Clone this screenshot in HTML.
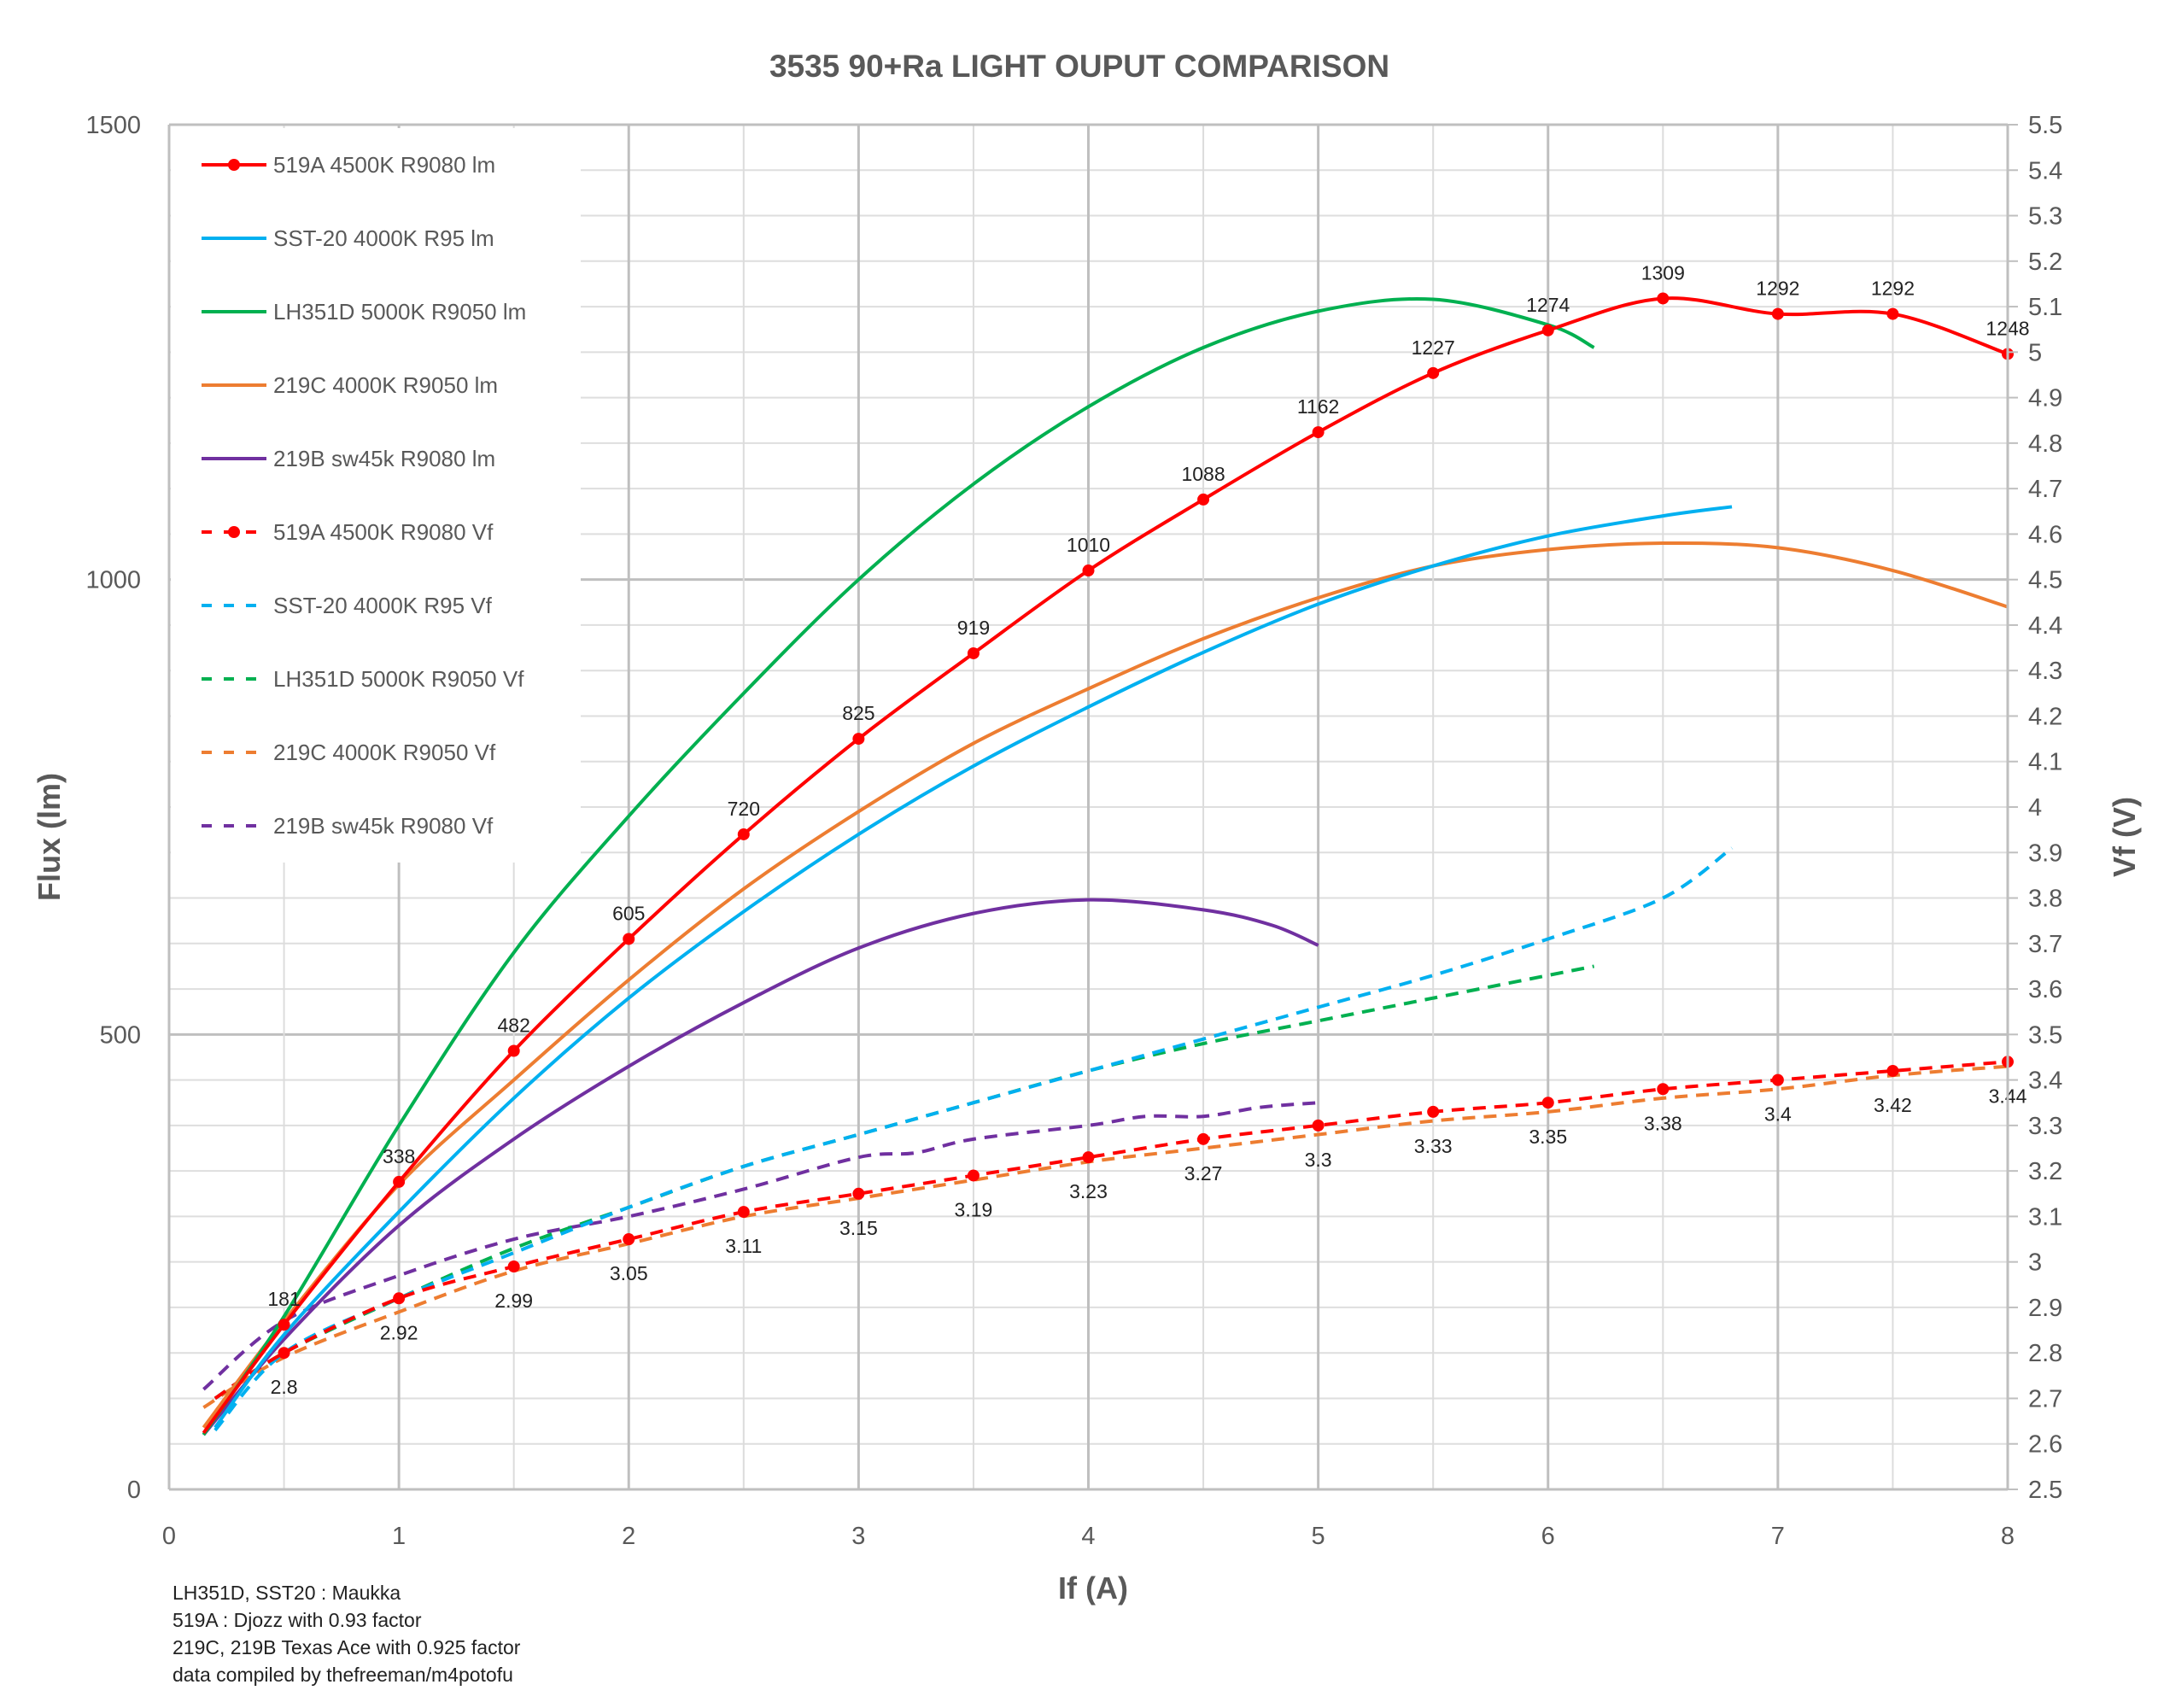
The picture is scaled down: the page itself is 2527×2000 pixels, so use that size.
<!DOCTYPE html>
<html><head><meta charset="utf-8"><style>
html,body{margin:0;padding:0;background:#fff}
svg{display:block;font-family:"Liberation Sans",sans-serif}
</style></head><body>
<svg id="chart" width="2527" height="2000" viewBox="0 0 2527 2000" xmlns="http://www.w3.org/2000/svg">
<text x="1264" y="90" text-anchor="middle" font-size="37" font-weight="bold" fill="#595959">3535 90+Ra LIGHT OUPUT COMPARISON</text>
<g id="grid"></g><g id="legendbg"></g><g id="series"></g><g id="axes"></g><g id="legend"></g>
<text transform="translate(70,980) rotate(-90)" text-anchor="middle" font-size="36" font-weight="bold" fill="#595959">Flux (lm)</text>
<text transform="translate(2500,980) rotate(-90)" text-anchor="middle" font-size="36" font-weight="bold" fill="#595959">Vf (V)</text>
<text x="1280" y="1872" text-anchor="middle" font-size="36" font-weight="bold" fill="#595959">If (A)</text>
<g font-size="23" fill="#222">
<text x="202" y="1873">LH351D, SST20 : Maukka</text>
<text x="202" y="1905">519A : Djozz with 0.93 factor</text>
<text x="202" y="1937">219C, 219B Texas Ace with 0.925 factor</text>
<text x="202" y="1969">data compiled by thefreeman/m4potofu</text>
</g>
</svg>
<script>
const xTicks=[0,1,2,3,4,5,6,7,8];
const yTicks=[0,500,1000,1500];
const y2Ticks=[2.5,2.6,2.7,2.8,2.9,3,3.1,3.2,3.3,3.4,3.5,3.6,3.7,3.8,3.9,4,4.1,4.2,4.3,4.4,4.5,4.6,4.7,4.8,4.9,5,5.1,5.2,5.3,5.4,5.5];
const a519X=[0.15,0.5,1,1.5,2,2.5,3,3.5,4,4.5,5,5.5,6,6.5,7,7.5,8];
const a519Lm=[62,181,338,482,605,720,825,919,1010,1088,1162,1227,1274,1309,1292,1292,1248];
const a519VfX=[0.2,0.5,1,1.5,2,2.5,3,3.5,4,4.5,5,5.5,6,6.5,7,7.5,8];
const a519Vf=[2.7,2.8,2.92,2.99,3.05,3.11,3.15,3.19,3.23,3.27,3.3,3.33,3.35,3.38,3.4,3.42,3.44];
const sstX=[0.2,0.5,1,1.5,2,2.5,3,3.5,4,4.5,5,5.5,6,6.5,6.8];
const sstLm=[68,170,305,430,540,635,720,795,860,920,973,1015,1048,1070,1080];
const sstVf=[2.63,2.8,2.92,3.02,3.12,3.21,3.28,3.35,3.42,3.49,3.56,3.63,3.71,3.8,3.91];
const lhX=[0.15,0.5,1,1.5,2,2.5,3,3.5,4,4.5,5,5.5,6,6.2];
const lhLm=[60,190,400,590,740,875,1000,1105,1190,1255,1295,1308,1280,1255];
const lhVfX=[0.2,0.5,1,1.5,2,2.5,3,3.5,4,4.5,5,5.5,6,6.2];
const lhVf=[2.7,2.8,2.92,3.03,3.12,3.21,3.28,3.35,3.42,3.48,3.53,3.58,3.63,3.65];
const c219X=[0.15,0.5,1,1.5,2,2.5,3,3.5,4,4.5,5,5.5,6,6.5,7,7.5,8];
const c219Lm=[68,185,335,450,560,660,745,820,880,935,980,1015,1033,1040,1035,1010,970];
const c219Vf=[2.68,2.79,2.89,2.98,3.04,3.1,3.14,3.18,3.22,3.25,3.28,3.31,3.33,3.36,3.38,3.41,3.43];
const b219X=[0.15,0.5,1,1.5,2,2.5,3,3.5,4,4.5,4.8,5];
const b219Lm=[60,165,290,385,465,535,595,633,648,637,620,598];
const b219VfX=[0.15,0.5,1,1.5,2,2.5,3,3.25,3.5,4,4.25,4.5,4.75,5];
const b219Vf=[2.72,2.87,2.97,3.05,3.1,3.16,3.23,3.24,3.27,3.3,3.32,3.32,3.34,3.35];
const legendLabels=["519A 4500K R9080 lm","SST-20 4000K R95 lm","LH351D 5000K R9050 lm","219C 4000K R9050 lm","219B sw45k R9080 lm","519A 4500K R9080 Vf","SST-20 4000K R95 Vf","LH351D 5000K R9050 Vf","219C 4000K R9050 Vf","219B sw45k R9080 Vf"];

const L=198,R=2351,T=146,B=1744;
const sx=v=>L+v/8*(R-L);
const sy=v=>B-v/1500*(B-T);
const sy2=v=>B-(v-2.5)/3*(B-T);
const NS="http://www.w3.org/2000/svg";
function mk(tag,attrs,parent){const e=document.createElementNS(NS,tag);for(const k in attrs)e.setAttribute(k,attrs[k]);parent.appendChild(e);return e;}
const grid=document.getElementById('grid'),axes=document.getElementById('axes'),ser=document.getElementById('series'),leg=document.getElementById('legend'),lbg=document.getElementById('legendbg');

y2Ticks.forEach(v=>{const y=sy2(v);
 const ln=mk('line',{x1:L,x2:R,y1:y,y2:y,stroke:'#dedede','stroke-width':2},grid);
 
 mk('line',{x1:R,x2:R+12,y1:y,y2:y,stroke:'#bfbfbf','stroke-width':2},axes);
 const tx=mk('text',{x:R+24,y:y+10,'font-size':29,fill:'#595959'},axes);tx.textContent=String(v);
 });
yTicks.forEach(v=>{const y=sy(v);const ln=mk('line',{x1:L,x2:R,y1:y,y2:y,stroke:'#bfbfbf','stroke-width':3},grid);
 });
for(let v=0.5;v<8;v+=0.5){const x=sx(v);const major=v%1===0;
 const ln=mk('line',{x1:x,x2:x,y1:T,y2:B,stroke:major?'#bfbfbf':'#dcdcdc','stroke-width':major?3:2},grid);
 }
const bg=mk('rect',{x:L+2,y:T+4,width:480,height:860,fill:'#fff'},lbg);

mk('line',{x1:L,x2:L,y1:T,y2:B,stroke:'#bfbfbf','stroke-width':3},axes);
mk('line',{x1:R,x2:R,y1:T,y2:B,stroke:'#bfbfbf','stroke-width':3},axes);
mk('line',{x1:L,x2:R,y1:B,y2:B,stroke:'#bfbfbf','stroke-width':3},axes);
mk('line',{x1:L,x2:R,y1:T,y2:T,stroke:'#bfbfbf','stroke-width':3},axes);
xTicks.forEach(v=>{const tx=mk('text',{x:sx(v),y:B+64,'text-anchor':'middle','font-size':29,fill:'#595959'},axes);tx.textContent=v;
 });
yTicks.forEach(v=>{const tx=mk('text',{x:165,y:sy(v)+10,'text-anchor':'end','font-size':29,fill:'#595959'},axes);tx.textContent=v;
 });

function path(xs,ys,fy){const p=xs.map((x,i)=>[sx(x),fy(ys[i])]);let d=`M${p[0][0]},${p[0][1]}`;
 for(let i=0;i<p.length-1;i++){const p0=p[i-1]||p[i],p1=p[i],p2=p[i+1],p3=p[i+2]||p2;
  d+=` C${p1[0]+(p2[0]-p0[0])/6},${p1[1]+(p2[1]-p0[1])/6} ${p2[0]-(p3[0]-p1[0])/6},${p2[1]-(p3[1]-p1[1])/6} ${p2[0]},${p2[1]}`;}return d;}
function line(xs,ys,fy,color,dash,name){const e=mk('path',{d:path(xs,ys,fy),fill:'none',stroke:color,'stroke-width':4,'stroke-dasharray':dash?'15 10':'none'},ser);
 }
line(b219VfX,b219Vf,sy2,'#7030a0',true,'line-219b-vf');
line(c219X,c219Vf,sy2,'#ed7d31',true,'line-219c-vf');
line(lhVfX,lhVf,sy2,'#00b050',true,'line-lh351d-vf');
line(sstX,sstVf,sy2,'#00b0f0',true,'line-sst20-vf');
line(a519VfX,a519Vf,sy2,'#ff0000',true,'line-519a-vf');
line(b219X,b219Lm,sy,'#7030a0',false,'line-219b-lm');
line(c219X,c219Lm,sy,'#ed7d31',false,'line-219c-lm');
line(lhX,lhLm,sy,'#00b050',false,'line-lh351d-lm');
line(sstX,sstLm,sy,'#00b0f0',false,'line-sst20-lm');
line(a519X,a519Lm,sy,'#ff0000',false,'line-519a-lm');
a519X.forEach((x,i)=>{if(i===0)return;const c=mk('circle',{cx:sx(x),cy:sy(a519Lm[i]),r:7,fill:'#ff0000'},ser);
 
 const t=mk('text',{x:sx(x),y:sy(a519Lm[i])-22,'text-anchor':'middle','font-size':23,fill:'#222'},ser);t.textContent=a519Lm[i];
 });
a519VfX.forEach((x,i)=>{if(i===0)return;const c=mk('circle',{cx:sx(x),cy:sy2(a519Vf[i]),r:7,fill:'#ff0000'},ser);
 
 const t=mk('text',{x:sx(x),y:sy2(a519Vf[i])+48,'text-anchor':'middle','font-size':23,fill:'#222'},ser);t.textContent=a519Vf[i];
 });

const lc=['#ff0000','#00b0f0','#00b050','#ed7d31','#7030a0','#ff0000','#00b0f0','#00b050','#ed7d31','#7030a0'];
legendLabels.forEach((s,i)=>{const y=193+i*86;const g=mk('g',{},leg);
 
 mk('line',{x1:236,x2:312,y1:y,y2:y,stroke:lc[i],'stroke-width':4,'stroke-dasharray':i>=5?'12 14':'none'},g);
 if(i===0||i===5)mk('circle',{cx:274,cy:y,r:7,fill:'#ff0000'},g);
 const t=mk('text',{x:320,y:y+9,'font-size':26,fill:'#595959'},g);t.textContent=s;});
</script>
</body></html>
